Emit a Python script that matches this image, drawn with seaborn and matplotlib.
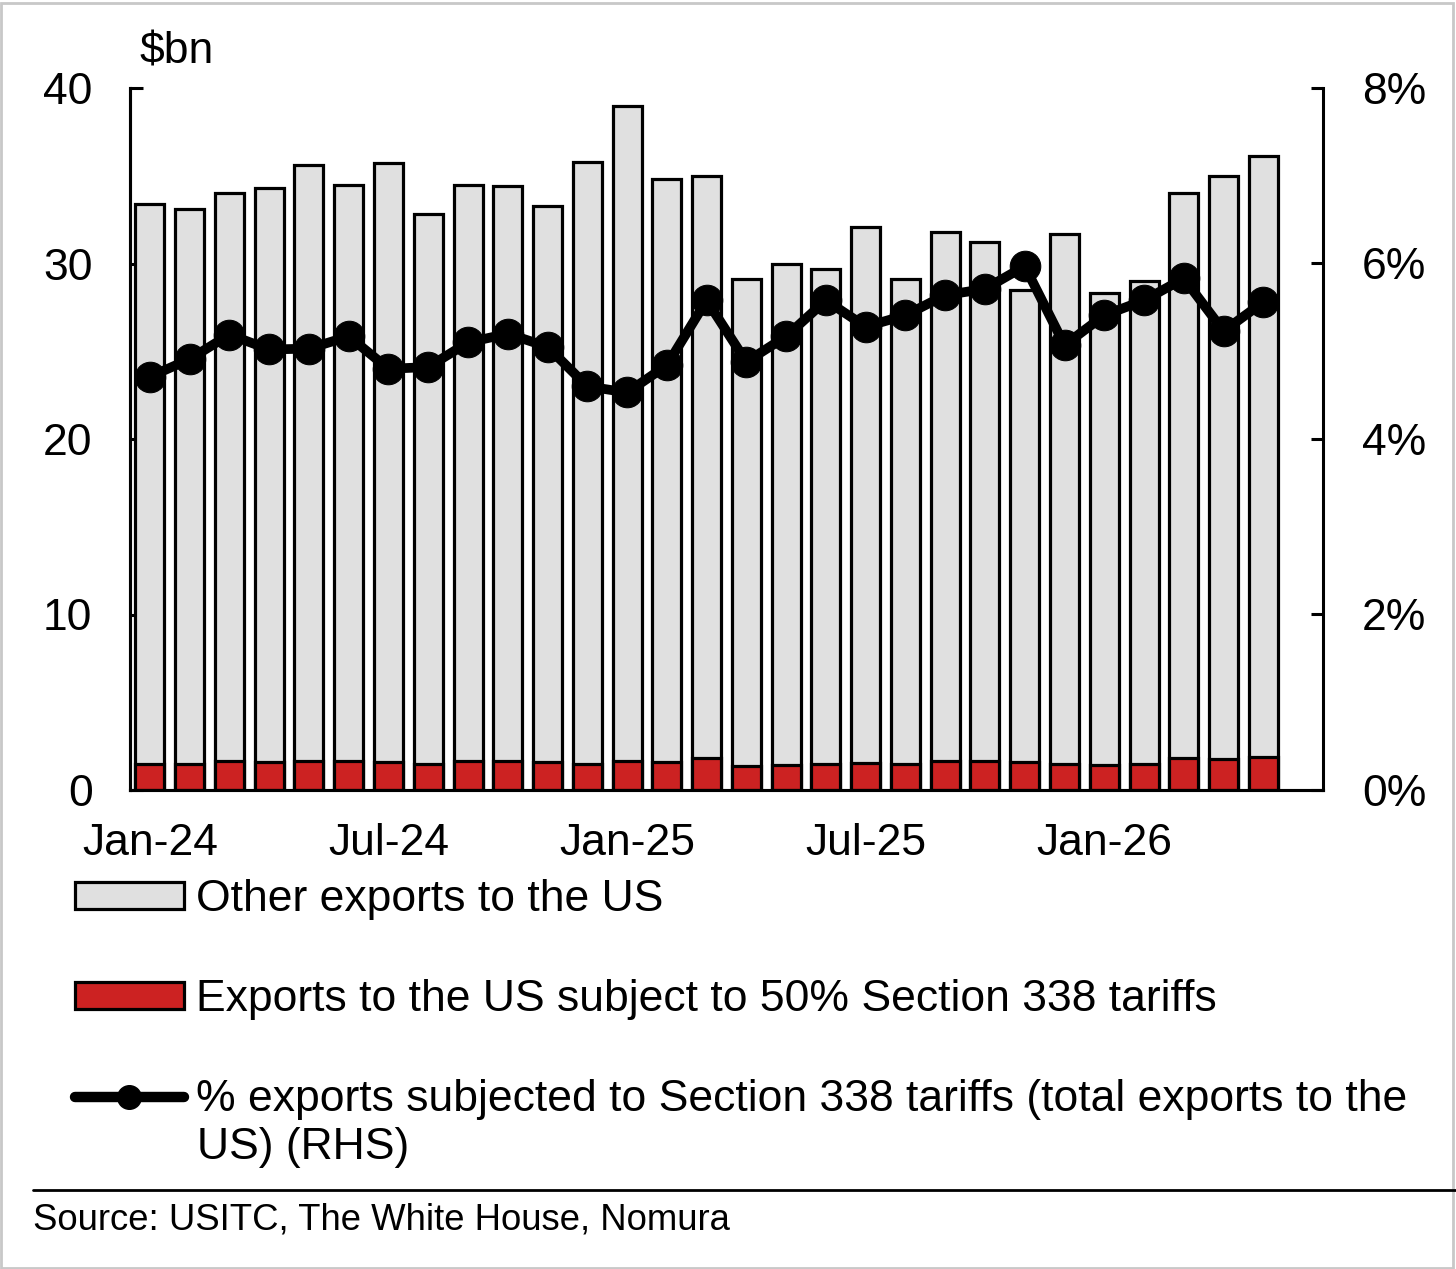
import numpy as np
import matplotlib
matplotlib.use("Agg")
import matplotlib.pyplot as plt
import seaborn as sns
from matplotlib.patches import Patch, Rectangle
from matplotlib.lines import Line2D
from matplotlib.ticker import FuncFormatter

# Monthly data, Jan-24 .. May-26
months = ["Jan-24", "Feb-24", "Mar-24", "Apr-24", "May-24", "Jun-24",
          "Jul-24", "Aug-24", "Sep-24", "Oct-24", "Nov-24", "Dec-24",
          "Jan-25", "Feb-25", "Mar-25", "Apr-25", "May-25", "Jun-25",
          "Jul-25", "Aug-25", "Sep-25", "Oct-25", "Nov-25", "Dec-25",
          "Jan-26", "Feb-26", "Mar-26", "Apr-26", "May-26"]

# $bn, exports subject to 50% Section 338 tariffs
tariffed = [1.5, 1.5, 1.65, 1.6, 1.65, 1.65, 1.6, 1.5, 1.65, 1.65, 1.6, 1.5,
            1.65, 1.6, 1.8, 1.35, 1.4, 1.5, 1.55, 1.5, 1.65, 1.65, 1.6, 1.5,
            1.4, 1.5, 1.85, 1.75, 1.9]

# $bn, other exports to the US
other = [31.9, 31.6, 32.35, 32.7, 33.95, 32.85, 34.1, 31.3, 32.85, 32.75, 31.7, 34.3,
         37.35, 33.2, 33.2, 27.75, 28.6, 28.2, 30.55, 27.6, 30.15, 29.55, 26.9, 30.2,
         26.9, 27.5, 32.15, 33.25, 34.2]

# % of total exports to the US subject to the tariffs (RHS)
share_pct = [4.71, 4.91, 5.19, 5.02, 5.03, 5.17, 4.80, 4.82, 5.10, 5.20, 5.05, 4.60,
             4.53, 4.84, 5.58, 4.88, 5.17, 5.58, 5.28, 5.41, 5.64, 5.71, 5.97, 5.07,
             5.41, 5.58, 5.83, 5.23, 5.56]

tick_months = ["Jan-24", "Jul-24", "Jan-25", "Jul-25", "Jan-26"]

GREY = "#E0E0E0"
RED = "#CC2222"
FS = 32

sns.set_style("white")
plt.rcParams["font.family"] = ["Liberation Sans", "DejaVu Sans"]
plt.rcParams["text.color"] = "black"

fig = plt.figure(figsize=(14.56, 12.69), dpi=100)
ax = fig.add_axes([130 / 1456, 1 - 790 / 1269, (1323 - 130) / 1456, (790 - 88) / 1269])

pos = np.arange(len(months))
stack_top = np.array(tariffed) + np.array(other)

# stacked bars: grey on top of red
sns.barplot(x=pos, y=stack_top, color=GREY, saturation=1, width=0.73,
            edgecolor="black", linewidth=2.3, ax=ax)
sns.barplot(x=pos, y=tariffed, color=RED, saturation=1, width=0.73,
            edgecolor="black", linewidth=2.3, ax=ax)

ax.set_xlim(-0.5, 29.5)
ax.set_ylim(0, 40)
ax.set_yticks([0, 10, 20, 30, 40])
ax.set_xticks([months.index(m) for m in tick_months])
ax.set_xticklabels(tick_months)
ax.set_xlabel("")
ax.set_ylabel("")

ax2 = ax.twinx()
sns.lineplot(x=pos, y=share_pct, color="black", linewidth=7, marker="o",
             markersize=22, markeredgecolor="black", ax=ax2)
ax2.set_ylim(0, 8)
ax2.set_yticks([0, 2, 4, 6, 8])
ax2.yaxis.set_major_formatter(FuncFormatter(lambda v, p: f"{v:.0f}%"))
ax2.set_ylabel("")

for a in (ax, ax2):
    for s in a.spines.values():
        s.set_linewidth(2.2)
        s.set_color("black")
    a.spines["top"].set_visible(False)

ax.spines["right"].set_visible(False)
ax.tick_params(axis="y", direction="in", length=9, width=2.2, pad=27,
               labelsize=FS, left=True, colors="black")
ax.tick_params(axis="x", length=0, pad=24, labelsize=FS, colors="black")
ax2.tick_params(axis="y", direction="in", length=9, width=2.2, pad=28,
                labelsize=FS, right=True, colors="black")

fig.text(140 / 1456, 1 - 52 / 1269, "$bn", fontsize=FS, va="center", ha="left")

# legend
handles = [
    Patch(facecolor=GREY, edgecolor="black", linewidth=2.3),
    Patch(facecolor=RED, edgecolor="black", linewidth=2.3),
    Line2D([], [], color="black", linewidth=7.5, marker="o", markersize=17),
]
labels = [
    "Other exports to the US",
    "Exports to the US subject to 50% Section 338 tariffs",
    "% exports subjected to Section 338 tariffs (total exports to the",
]
fig.legend(handles, labels, loc="upper left", bbox_to_anchor=(75 / 1456, 1 - 879 / 1269),
           frameon=False, fontsize=FS, handlelength=2.45, handleheight=0.55,
           handletextpad=0.27, labelspacing=1.33, borderpad=0, borderaxespad=0)
fig.text(197 / 1456, 1 - 1147 / 1269, "US) (RHS)", fontsize=FS, va="center", ha="left")

# source line + note
fig.add_artist(Line2D([33 / 1456, 1], [1 - 1190 / 1269] * 2, transform=fig.transFigure,
                      color="black", linewidth=2))
fig.text(33 / 1456, 1 - 1220 / 1269, "Source: USITC, The White House, Nomura",
         fontsize=26.3, va="center", ha="left")

# thin grey frame around the image
fig.add_artist(Rectangle((0.001, 0.001), 0.997, 0.997, transform=fig.transFigure,
                         fill=False, edgecolor="#C8C8C8", linewidth=2))

fig.savefig("out.png", dpi=100)
